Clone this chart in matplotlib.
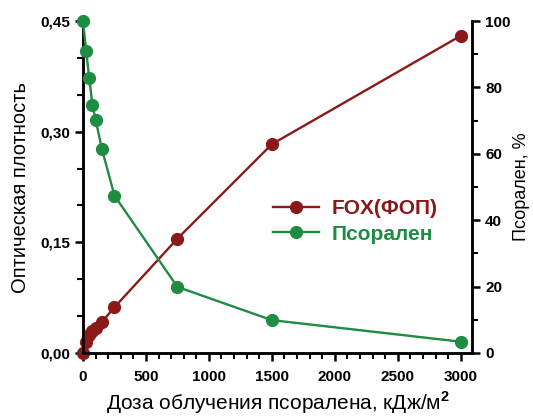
import matplotlib
matplotlib.use("Agg")
import matplotlib.pyplot as plt
from matplotlib.ticker import MultipleLocator, FixedLocator, FixedFormatter

plt.rcParams['font.family'] = ['Liberation Sans', 'DejaVu Sans']
plt.rcParams['mathtext.fontset'] = 'custom'
plt.rcParams['mathtext.rm'] = 'Liberation Sans'
plt.rcParams['mathtext.bf'] = 'Liberation Sans:bold'

# Data
dose = [0, 25, 50, 75, 100, 150, 250, 750, 1500, 3000]
fox = [0.0, 0.015, 0.024, 0.030, 0.034, 0.042, 0.062, 0.155, 0.283, 0.430]
psoralen = [100, 91, 82.7, 74.8, 70.3, 61.5, 47.4, 19.9, 9.9, 3.4]

left_ticks = [0.0, 0.15, 0.30, 0.45]
left_labels = ['0,00', '0,15', '0,30', '0,45']
right_ticks = [0, 20, 40, 60, 80, 100]
x_ticks = [0, 500, 1000, 1500, 2000, 2500, 3000]

red = '#8a1a1a'
green = '#1f8c44'

fig = plt.figure(figsize=(5.33, 4.17), dpi=100)
ax = fig.add_axes([0.1557, 0.1535, 0.8856 - 0.1557, 0.9496 - 0.1535])
ax2 = ax.twinx()

l1, = ax.plot(dose, fox, '-o', color=red, lw=1.7, ms=8.5, label='FOX(ФОП)', clip_on=False, zorder=3)
l2, = ax2.plot(dose, psoralen, '-o', color=green, lw=1.7, ms=8.5, label='Псорален', clip_on=False, zorder=3)

ax.set_xlim(0, 3090)
ax.set_ylim(0, 0.45)
ax2.set_ylim(0, 100)

ax.xaxis.set_major_locator(FixedLocator(x_ticks))
ax.xaxis.set_minor_locator(MultipleLocator(100))
ax.yaxis.set_major_locator(FixedLocator(left_ticks))
ax.yaxis.set_major_formatter(FixedFormatter(left_labels))
ax.yaxis.set_minor_locator(MultipleLocator(0.05))
ax2.yaxis.set_major_locator(FixedLocator(right_ticks))
ax2.yaxis.set_minor_locator(MultipleLocator(10))

for a in (ax, ax2):
    a.spines['top'].set_visible(False)
    for s in a.spines.values():
        s.set_linewidth(1.8)
    a.tick_params(which='major', direction='out', length=6, width=1.8, labelsize=11)
    a.tick_params(which='minor', direction='out', length=4, width=1.5)
    for lab in a.get_xticklabels() + a.get_yticklabels():
        lab.set_fontweight('bold')

ax.tick_params(axis='x', pad=6)
ax.set_xlabel('Доза облучения псоралена, кДж/м$^\\mathbf{2}$', fontsize=15, labelpad=4)
ax.set_ylabel('Оптическая плотность', fontsize=14.5, labelpad=7)
ax2.set_ylabel('Псорален, %', fontsize=13, labelpad=2)

leg = ax.legend(handles=[l1, l2], loc='upper left', bbox_to_anchor=(0.488, 0.463),
                frameon=False, fontsize=15, handlelength=2.2, handletextpad=0.6,
                labelspacing=0.3, borderaxespad=0, borderpad=0)
for txt, c in zip(leg.get_texts(), [red, green]):
    txt.set_color(c)
    txt.set_fontweight('bold')

fig.savefig('out.png', dpi=100)
